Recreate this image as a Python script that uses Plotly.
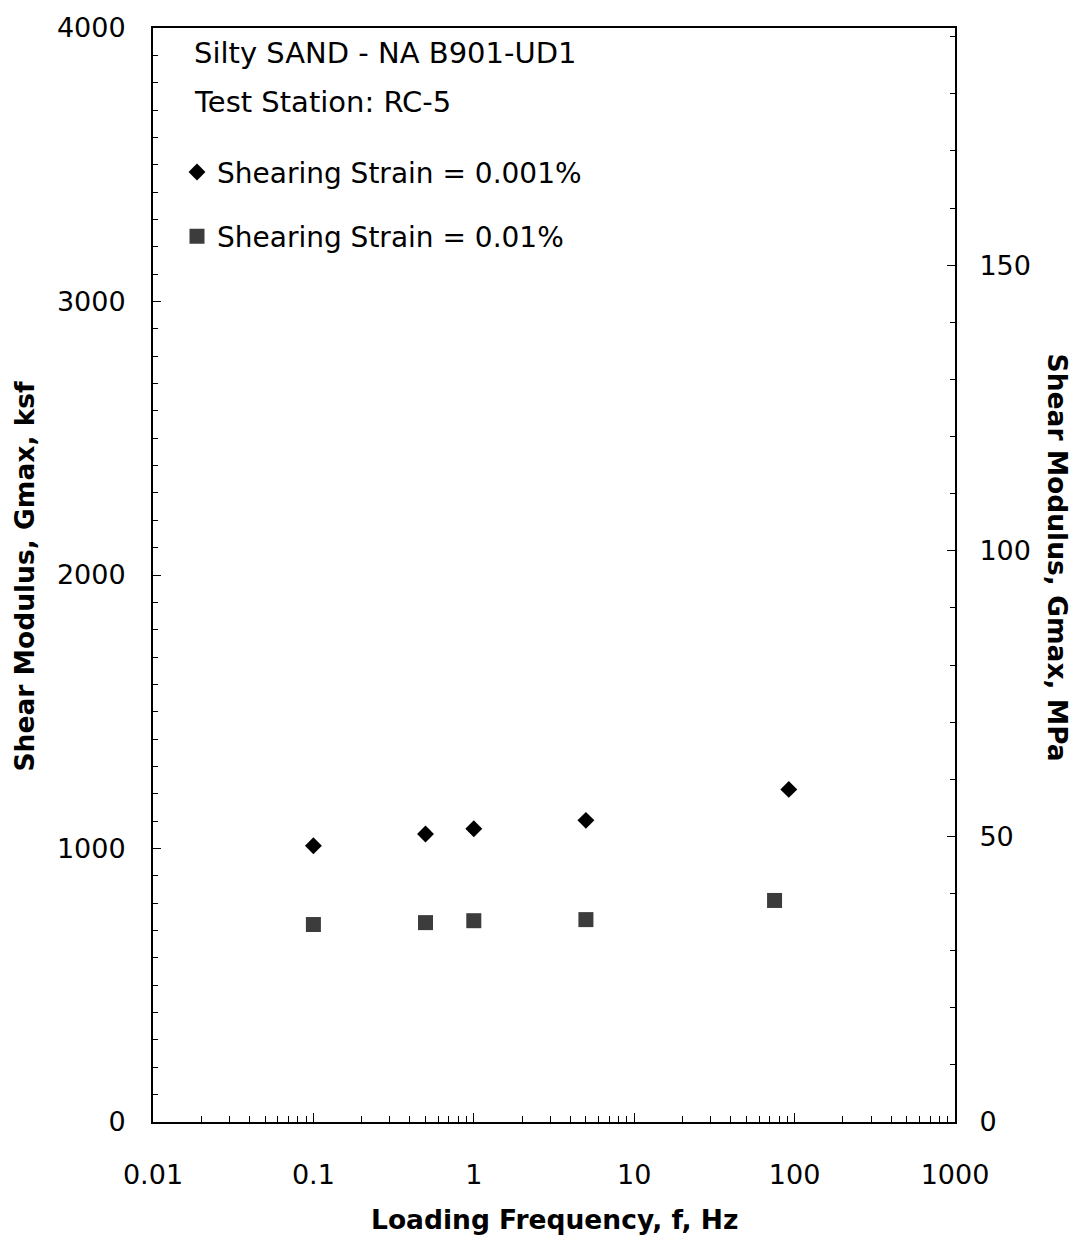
import plotly.graph_objects as go

# ---- data ----
freq_strain_0001 = [0.1, 0.5, 1, 5, 92]          # Hz
gmax_strain_0001 = [1010, 1053, 1072, 1103, 1216]  # ksf
freq_strain_001 = [0.1, 0.5, 1, 5, 75]           # Hz
gmax_strain_001 = [722, 729, 736, 740, 810]       # ksf

KSF_TO_MPA = 0.04788
Y_MAX_KSF = 4000

x_tickvals = [0.01, 0.1, 1, 10, 100, 1000]
x_ticktext = ["0.01", "0.1", "1", "10", "100", "1000"]
y_left_ticks = [0, 1000, 2000, 3000, 4000]
y_right_ticks = [0, 50, 100, 150]

title_lines = ["Silty SAND - NA B901-UD1", "Test Station: RC-5"]
series_names = ["Shearing Strain = 0.001%", "Shearing Strain = 0.01%"]

FONT = "DejaVu Sans"

fig = go.Figure()
fig.add_trace(go.Scatter(
    x=freq_strain_0001, y=gmax_strain_0001, mode="markers", name=series_names[0],
    legendgroup="a",
    marker=dict(symbol="diamond", size=13, color="black"),
))
fig.add_trace(go.Scatter(
    x=freq_strain_001, y=gmax_strain_001, mode="markers", name=series_names[1],
    legendgroup="b",
    marker=dict(symbol="square", size=15, color="#3c3c3c"),
))
# invisible trace to activate the MPa axis
fig.add_trace(go.Scatter(
    x=[x_tickvals[0]], y=[0], yaxis="y2", mode="markers",
    marker=dict(opacity=0), showlegend=False, hoverinfo="skip",
))

L, R, T, B = 153, 128, 21, 119
W, H = 1083, 1241
pw, ph = W - L - R, H - T - B


def px(xpix):
    return (xpix - L) / pw


def py(ypix):
    return (H - B - ypix) / ph


axis_common = dict(
    showline=True, linecolor="black", linewidth=2, showgrid=False, zeroline=False,
    ticks="inside", tickcolor="black", tickwidth=1,
    tickfont=dict(family=FONT, size=27, color="black"),
)

fig.update_layout(
    width=W, height=H,
    margin=dict(l=L, r=R, t=T, b=B, pad=0),
    paper_bgcolor="white", plot_bgcolor="white",
    font=dict(family=FONT, size=27, color="black"),
    showlegend=True,
    legend=dict(
        x=px(177), y=py(141), xanchor="left", yanchor="top",
        bgcolor="rgba(0,0,0,0)", borderwidth=0,
        font=dict(family=FONT, size=28, color="black"),
        tracegroupgap=25, itemsizing="trace",
    ),
    xaxis=dict(
        type="log", range=[-2, 3], tickmode="array",
        tickvals=x_tickvals, ticktext=x_ticktext,
        ticklen=9, mirror=True, ticklabelstandoff=28,
        minor=dict(ticks="inside", ticklen=6, tickcolor="black", dtick="D1", showgrid=False),
        **axis_common,
    ),
    yaxis=dict(
        range=[0, Y_MAX_KSF], tickmode="array", tickvals=y_left_ticks,
        ticklen=8, ticklabelstandoff=20,
        minor=dict(ticks="inside", ticklen=5, tickcolor="black", tickmode="linear",
                   tick0=0, dtick=100, showgrid=False),
        **axis_common,
    ),
    yaxis2=dict(
        overlaying="y", side="right", range=[0, Y_MAX_KSF * KSF_TO_MPA],
        tickmode="array", tickvals=y_right_ticks,
        ticklen=8, ticklabelstandoff=17,
        minor=dict(ticks="inside", ticklen=5, tickcolor="black", tickmode="linear",
                   tick0=0, dtick=10, showgrid=False),
        **axis_common,
    ),
)

bold = dict(family=FONT, size=26.5, color="black", weight="bold")
annotations = [
    dict(text=title_lines[0], x=px(192), y=py(46), xref="paper", yref="paper",
         xanchor="left", yanchor="middle", showarrow=False,
         font=dict(family=FONT, size=29, color="black")),
    dict(text=title_lines[1], x=px(192), y=py(95), xref="paper", yref="paper",
         xanchor="left", yanchor="middle", showarrow=False,
         font=dict(family=FONT, size=29, color="black")),
    dict(text="Loading Frequency, f, Hz", x=0.5, y=py(1220), xref="paper", yref="paper",
         xanchor="center", yanchor="middle", showarrow=False, font=bold),
    dict(text="Shear Modulus, Gmax, ksf", x=px(24), y=py(573), xref="paper", yref="paper",
         xanchor="center", yanchor="middle", showarrow=False, textangle=-90, font=bold),
    dict(text="Shear Modulus, Gmax, MPa", x=px(1057), y=py(554), xref="paper", yref="paper",
         xanchor="center", yanchor="middle", showarrow=False, textangle=90, font=bold),
]
fig.update_layout(annotations=annotations)

fig.write_html("out.html")
